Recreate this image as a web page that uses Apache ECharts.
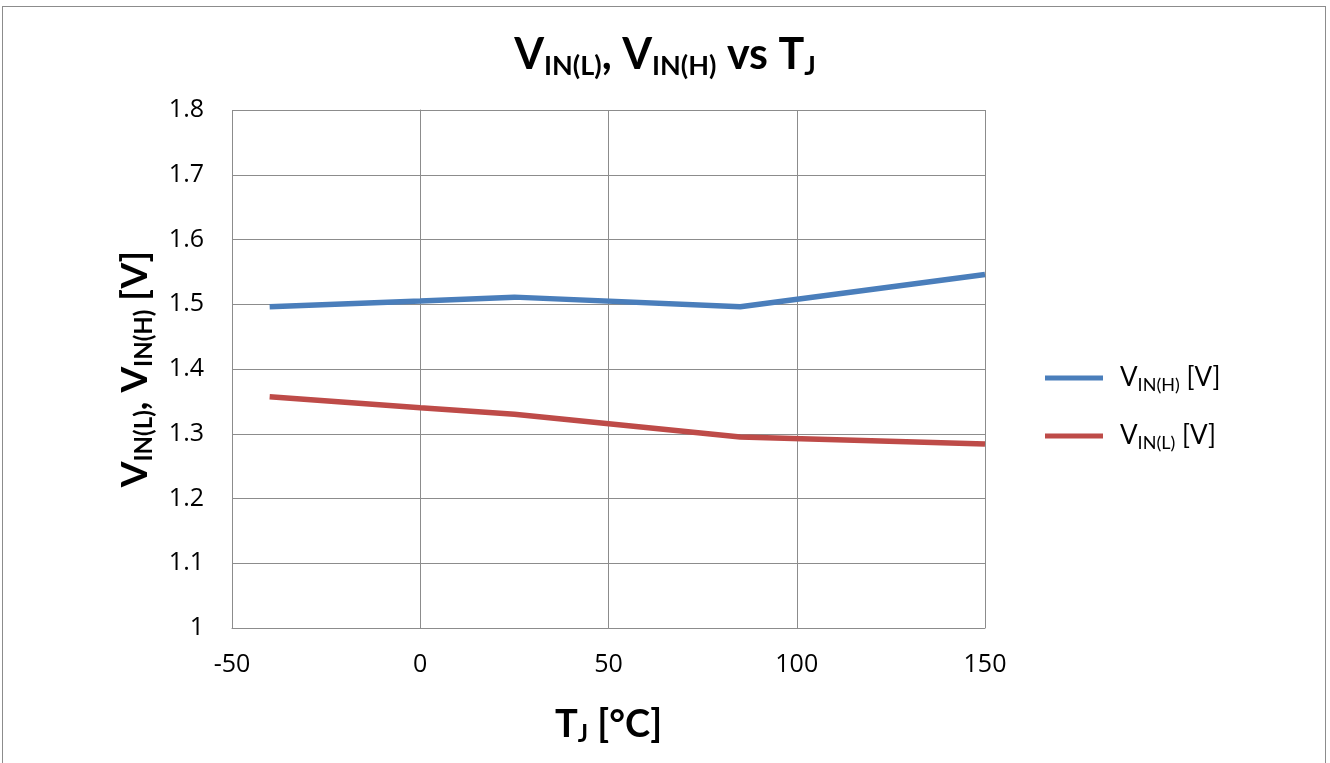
<!DOCTYPE html>
<html>
<head>
<meta charset="utf-8">
<script src="https://cdn.jsdelivr.net/npm/echarts@6/dist/echarts.min.js"></script>
<style>
  html, body { margin: 0; padding: 0; background: #fff; }
  #frame { position: absolute; left: 2px; top: 6px; width: 1324px; height: 760px; border: 1px solid #8c8c8c; box-sizing: border-box; }
  #chart { position: absolute; left: 0; top: 0; width: 1330px; height: 763px; }
</style>
</head>
<body>
<div id="frame"></div>
<div id="chart"></div>
<script>
// junction temperature, °C
const tempC = [-40, 0, 25, 85, 150]
// threshold voltages, V
const vinHigh = [1.496, 1.505, 1.511, 1.496, 1.546]
const vinLow = [1.357, 1.340, 1.330, 1.295, 1.284]
const yTicks = ['1', '1.1', '1.2', '1.3', '1.4', '1.5', '1.6', '1.7', '1.8']

const FONT = 'Lato'
const zip = (xs, ys) => xs.map((x, i) => [x, ys[i]])

// rich styles for subscripts
function richSet (big, small, drop, weight) {
  return {
    m: { fontFamily: FONT, fontWeight: weight, fontSize: big, color: '#000' },
    s: { fontFamily: FONT, fontWeight: weight, fontSize: small, color: '#000', padding: [drop, 0, 0, 0] }
  }
}

const chart = echarts.init(document.getElementById('chart'))
const option = {
  animation: false,
  title: {
    text: '{m|V}{s|IN(L)}{m|, V}{s|IN(H)}{m| vs T}{s|J}',
    left: 'center',
    top: 26,
    textStyle: { rich: richSet(43, 27, 22, 'bold') }
  },
  legend: {
    orient: 'vertical',
    left: 1040,
    top: 360,
    itemGap: 29,
    itemWidth: 58,
    itemHeight: 5,
    icon: 'rect',
    data: ['high', 'low'],
    formatter: function (name) {
      return name === 'high' ? '{m|V}{s|IN(H)}{m| [V]}' : '{m|V}{s|IN(L)}{m| [V]}'
    },
    textStyle: {
      padding: [0, 0, 0, 12],
      rich: richSet(26, 18, 14, 'normal')
    }
  },
  grid: { left: 232, right: 345, top: 110, bottom: 135 },
  xAxis: {
    type: 'value',
    min: -50,
    max: 150,
    interval: 50,
    name: '{m|T}{s|J}{m| [°C]}',
    nameLocation: 'middle',
    nameGap: 76,
    nameTextStyle: { rich: richSet(38, 24, 18, 'bold') },
    axisLine: { lineStyle: { color: '#8c8c8c', width: 1 } },
    axisTick: { show: false },
    splitLine: { show: true, lineStyle: { color: '#8c8c8c', width: 1 } },
    axisLabel: { fontFamily: 'Open Sans', fontSize: 25, color: '#000', margin: 24 }
  },
  yAxis: {
    type: 'value',
    min: 1,
    max: 1.8,
    interval: 0.1,
    name: '{m|V}{s|IN(L)}{m|, V}{s|IN(H)}{m| [V]}',
    nameLocation: 'middle',
    nameRotate: 90,
    nameGap: 76,
    nameTextStyle: { rich: richSet(37, 24, 18, 'bold') },
    axisLine: { show: true, lineStyle: { color: '#8c8c8c', width: 1 } },
    axisTick: { show: false },
    splitLine: { show: true, lineStyle: { color: '#8c8c8c', width: 1 } },
    axisLabel: {
      fontFamily: 'Open Sans', fontSize: 25, color: '#000', margin: 28,
      formatter: function (v) { return yTicks[Math.round((v - 1) * 10)] }
    }
  },
  series: [
    {
      name: 'high',
      type: 'line',
      data: zip(tempC, vinHigh),
      showSymbol: false,
      color: '#4a7ebb',
      lineStyle: { width: 5.5, color: '#4a7ebb' }
    },
    {
      name: 'low',
      type: 'line',
      data: zip(tempC, vinLow),
      showSymbol: false,
      color: '#be4b48',
      lineStyle: { width: 5.5, color: '#be4b48' }
    }
  ]
}
chart.setOption(option)
</script>
</body>
</html>
